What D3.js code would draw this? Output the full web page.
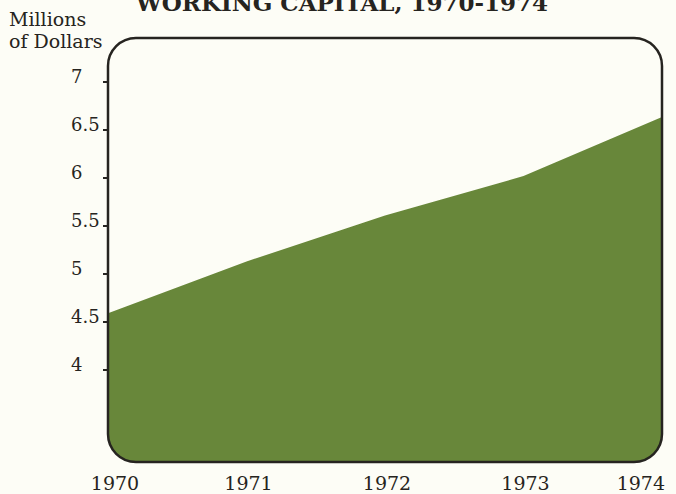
<!DOCTYPE html>
<html>
<head>
<meta charset="utf-8">
<script src="https://cdn.jsdelivr.net/npm/d3@7"></script>
<style>
  html, body { margin: 0; padding: 0; background: #fdfdf6; }
  svg { display: block; }
</style>
</head>
<body>
<div id="chart"></div>
<script>
// data
var years = [1970, 1971, 1972, 1973, 1974]
var capital = [4.59, 5.13, 5.61, 6.02, 6.635]
var yTicks = [4, 4.5, 5, 5.5, 6, 6.5, 7]
var yTickLabels = ['4', '4.5', '5', '5.5', '6', '6.5', '7']

var width = 676
var height = 494
var frame = { left: 108, right: 662, top: 38, bottom: 462, r: 28 }
var green = '#68873a'
var ink = '#262420'
var serif = '"DejaVu Serif", serif'

var svg = d3.select('#chart').append('svg')
  .attr('width', width)
  .attr('height', height)

var x = d3.scaleLinear().domain([1970, 1974]).range([frame.left, frame.right])
var y = d3.scaleLinear().domain([3, 7]).range([466, 82])

// clip for the rounded frame
svg.append('defs').append('clipPath')
  .attr('id', 'frame-clip')
  .append('rect')
  .attr('x', frame.left)
  .attr('y', frame.top)
  .attr('width', frame.right - frame.left)
  .attr('height', frame.bottom - frame.top)
  .attr('rx', frame.r)

var points = years.map(function (d, i) {
  return { year: d, value: capital[i] }
})

var area = d3.area()
  .x(function (d) { return x(d.year) })
  .y0(frame.bottom + 4)
  .y1(function (d) { return y(d.value) })

svg.append('path')
  .datum(points)
  .attr('clip-path', 'url(#frame-clip)')
  .attr('fill', green)
  .attr('d', area)

// frame
svg.append('rect')
  .attr('x', frame.left)
  .attr('y', frame.top)
  .attr('width', frame.right - frame.left)
  .attr('height', frame.bottom - frame.top)
  .attr('rx', frame.r)
  .attr('fill', 'none')
  .attr('stroke', ink)
  .attr('stroke-width', 2.5)

// y ticks, outside the frame
var yTick = svg.append('g').selectAll('g')
  .data(yTicks)
  .enter().append('g')
  .attr('transform', function (d) { return 'translate(0,' + y(d) + ')' })

yTick.append('line')
  .attr('x1', frame.left - 5)
  .attr('x2', frame.left)
  .attr('stroke', ink)
  .attr('stroke-width', 2)

yTick.append('text')
  .attr('x', 71)
  .attr('y', 1)
  .attr('font-family', serif)
  .attr('font-size', 18)
  .attr('fill', ink)
  .text(function (d, i) { return yTickLabels[i] })

// year labels
svg.append('g').selectAll('text')
  .data(years)
  .enter().append('text')
  .attr('x', function (d, i) {
    return i === years.length - 1 ? x(d) + 3 : x(d) + (i === 0 ? 7 : 2)
  })
  .attr('y', 490)
  .attr('text-anchor', function (d, i) { return i === years.length - 1 ? 'end' : 'middle' })
  .attr('font-family', serif)
  .attr('font-size', 19)
  .attr('fill', ink)
  .text(function (d) { return d })

// unit label (two lines)
var unit = svg.append('text')
  .attr('font-family', serif)
  .attr('font-size', 19)
  .attr('fill', ink)
unit.append('tspan').attr('x', 9).attr('y', 26).text('Millions')
unit.append('tspan').attr('x', 9).attr('y', 48).text('of Dollars')

// title, cut off at the top as in the original
svg.append('text')
  .attr('x', 342)
  .attr('y', 11)
  .attr('text-anchor', 'middle')
  .attr('font-family', serif)
  .attr('font-weight', 'bold')
  .attr('font-size', 23)
  .attr('fill', ink)
  .text('WORKING CAPITAL, 1970-1974')
</script>
</body>
</html>
